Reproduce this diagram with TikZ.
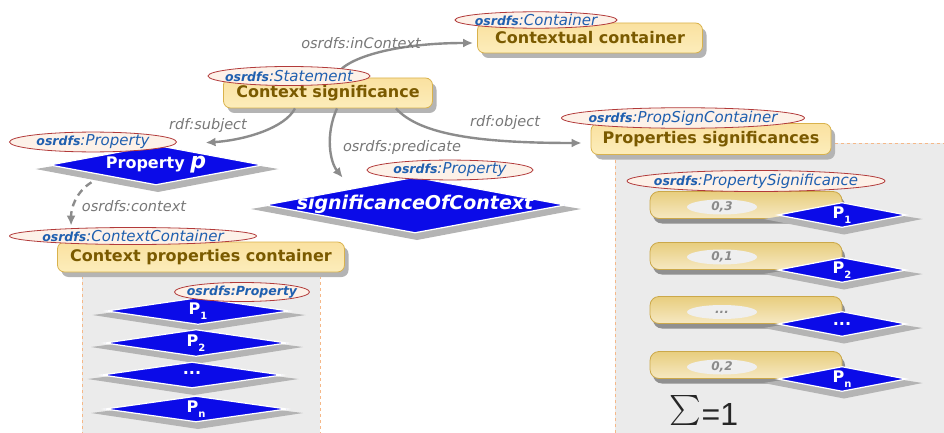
\documentclass[tikz,border=0pt]{standalone}
\usepackage{fontspec}
\setmainfont{DejaVu Sans}
\newfontfamily\arialf{Liberation Sans}
\usetikzlibrary{shapes.geometric,shadows,calc,arrows.meta}
\definecolor{dblue}{HTML}{0B0BE8}
\definecolor{shadowgrey}{HTML}{B4B4B4}
\definecolor{panelc}{HTML}{EBEBEB}
\definecolor{pdashc}{HTML}{F5B888}
\definecolor{ellred}{HTML}{B23A3A}
\definecolor{ellfill}{HTML}{FDF1E8}
\definecolor{lblue}{HTML}{1F5FAF}
\definecolor{ytop}{HTML}{FAE1A0}
\definecolor{ybot}{HTML}{FCEDBB}
\definecolor{yborder}{HTML}{D9B24C}
\definecolor{boxtext}{HTML}{7A5A00}
\definecolor{rtop}{HTML}{E8CD7E}
\definecolor{rbot}{HTML}{F6E9C2}
\definecolor{rborder}{HTML}{CBA84A}
\definecolor{arrgrey}{HTML}{8C8C8C}
\definecolor{lblgrey}{HTML}{777777}
\definecolor{valgrey}{HTML}{8A8A8A}
\definecolor{valfill}{HTML}{EFEFEF}
\newsavebox\sumbox
\newcommand\osl[1]{{\fontsize{12.5}{13}\selectfont\bfseries osrdfs}:#1}
\newcommand\ptxt[2]{\makebox[0pt]{\raisebox{3pt}{\fontsize{16}{16}\selectfont\bfseries #1\raisebox{-5pt}{\fontsize{10}{10}\selectfont #2}}}}
% #1 name, #2 x, #3 y, #4 width, #5 height, #6 text
\newcommand\pdiam[6]{%
  \fill[shadowgrey] ({#2-#4/2-14},{#3+4}) -- ({#2},{#3-#5/2+4}) -- ({#2+#4/2+16},{#3+4}) -- ({#2+2},{#3+#5/2+7}) -- cycle;
  \node[pdia, minimum width=#4pt, minimum height=#5pt] (#1) at (#2,#3) {#6};
}
\begin{document}
\begin{tikzpicture}[x=1pt,y=-1pt,
  arr/.style={draw=arrgrey, line width=2.4pt, -{Latex[length=10pt,width=9pt]}},
  lbl/.style={text=lblgrey, font=\fontsize{14.5}{16}\selectfont\itshape, inner sep=0pt},
  ybox/.style={rectangle, rounded corners=7pt, draw=yborder, line width=0.8pt, top color=ytop, bottom color=ybot, text=boxtext, font=\fontsize{16}{18}\selectfont\bfseries, inner sep=0pt, drop shadow={shadow xshift=4pt, shadow yshift=-5pt, fill=shadowgrey, opacity=1}},
  rbox/.style={rectangle, rounded corners=9pt, draw=rborder, line width=0.8pt, top color=rtop, bottom color=rbot, inner sep=0pt, minimum width=192pt, minimum height=27pt, drop shadow={shadow xshift=3pt, shadow yshift=-5pt, fill=shadowgrey!80!black, opacity=1}},
  ell/.style={ellipse, draw=ellred, fill=ellfill, line width=0.8pt, inner sep=0pt, text=lblue, font=\fontsize{15}{16}\selectfont\itshape},
  pdia/.style={diamond, fill=dblue, draw=white, line width=1.2pt, inner sep=0pt, text=white, font=\bfseries},
  vell/.style={ellipse, fill=valfill, inner sep=0pt, minimum width=70pt, minimum height=14pt, text=valgrey, font=\fontsize{12}{12}\selectfont\bfseries\itshape}
]
\useasboundingbox (0,0) rectangle (944,433);

% panels
\fill[panelc] (82,262) rectangle (320,433);
\draw[pdashc, dashed, line width=0.8pt] (82,270) -- (82,433) (320,270) -- (320,433);
\fill[panelc] (615,143) rectangle (944,433);
\draw[pdashc, dashed, line width=0.8pt] (615,433) -- (615,143) -- (944,143);

% main boxes
\node[ybox, minimum width=209pt, minimum height=30pt] (cs) at (328,93) {Context significance};
\node[ybox, minimum width=225pt, minimum height=30pt] (cc) at (590,38) {Contextual container};
\node[ybox, minimum width=240pt, minimum height=31pt] (ps) at (711,139) {Properties significances};
\node[ybox, minimum width=287pt, minimum height=30pt] (cpc) at (201,257) {Context properties container};

% diamonds
\pdiam{pp}{156}{165}{213}{40}{\makebox[0pt]{\raisebox{2pt}{\fontsize{16}{18}\selectfont\bfseries Property {\fontsize{22}{22}\selectfont\itshape p}}}}
\pdiam{soc}{415}{205}{300}{56}{\makebox[0pt]{\raisebox{5pt}{\fontsize{19}{20}\selectfont\bfseries\itshape significanceOfContext}}}

% arrows
\draw[arr] ($(cs.north)+(7,0)$) .. controls (342,58) and (395,43) .. ($(cc.west)+(-4,5)$);
\draw[arr] ($(cs.south)+(-33,0)$) .. controls (285,128) and (245,140) .. ($(pp.north east)+(-4,-12)$);
\draw[arr] ($(cs.south)+(9,0)$) .. controls (325,135) and (330,162) .. ($(soc.north west)+(3,-13)$);
\draw[arr] ($(cs.south east)+(-37,0)$) .. controls (420,135) and (480,143) .. ($(ps.west)+(-9,4)$);

% left panel diamonds
\pdiam{l1}{198}{311}{183}{27}{\ptxt{P}{1}}
\pdiam{l2}{196}{343}{182}{27}{\ptxt{P}{2}}
\pdiam{l3}{192}{375}{181}{26}{\ptxt{...}{}}
\pdiam{l4}{196}{409}{182}{26}{\ptxt{P}{n}}

% right panel rows
\node[rbox] (r1) at (746,205) {};
\node[vell] (v1) at (722,207) {0,3};
\pdiam{d1}{842}{215}{129}{25}{\ptxt{P}{1}}
\node[rbox] (r2) at (746,256) {};
\node[vell] (v2) at (722,257) {0,1};
\pdiam{d2}{842}{270}{129}{25}{\ptxt{P}{2}}
\node[rbox] (r3) at (746,310) {};
\node[vell] (v3) at (722,312) {...};
\pdiam{d3}{842}{324}{129}{25}{\makebox[0pt]{\fontsize{16}{16}\selectfont\bfseries ...}}
\node[rbox] (r4) at (746,365) {};
\node[vell] (v4) at (722,367) {0,2};
\pdiam{d4}{842}{379}{129}{25}{\ptxt{P}{n}}

% dashed context arrow
\draw[arr, dash pattern=on 7pt off 5pt] ($(pp.south west)+(-11,7)$) .. controls (76,192) and (71,208) .. ($(cpc.north west)+(14,-16)$);

% type ellipses
\node[ell, minimum width=162pt, minimum height=16pt] (e1) at (536,20) {\makebox[0pt]{\osl{Container}}};
\node[ell, minimum width=162pt, minimum height=19pt] (e2) at (289,76) {\makebox[0pt]{\osl{Statement}}};
\node[ell, minimum width=243pt, minimum height=18pt] (e3) at (683,118) {\makebox[0pt]{\osl{PropSignContainer}}};
\node[ell, minimum width=167pt, minimum height=16pt] (e4) at (93,142) {\makebox[0pt]{\osl{Property}}};
\node[ell, minimum width=166pt, minimum height=17pt] (e5) at (450,170) {\makebox[0pt]{\osl{Property}}};
\node[ell, minimum width=247pt, minimum height=17pt] (e6) at (133,236) {\makebox[0pt]{\osl{ContextContainer}}};
\node[ell, minimum width=258pt, minimum height=21pt] (e7) at (756,181) {\makebox[0pt]{\osl{PropertySignificance}}};
\node[ell, minimum width=135pt, minimum height=19pt, font=\fontsize{12.5}{13}\selectfont\bfseries\itshape] (e8) at (242,292) {\makebox[0pt]{osrdfs:Property}};

% arrow labels
\node[lbl] (tin) at (361,43) {osrdfs:inContext};
\node[lbl] (tsubj) at (208,125) {rdf:subject};
\node[lbl] (tpred) at (402,147) {osrdfs:predicate};
\node[lbl] (tobj) at (505,122) {rdf:object};
\node[lbl] (tctx) at (134,206) {osrdfs:context};

% sum
\node[inner sep=0pt, text=black!85] (sum) at (704,410) {\sbox\sumbox{\resizebox*{!}{30pt}{$\sum$}}\raisebox{\dp\sumbox}{\usebox\sumbox}\arialf\fontsize{32}{32}\selectfont =1};
\end{tikzpicture}
\end{document}
